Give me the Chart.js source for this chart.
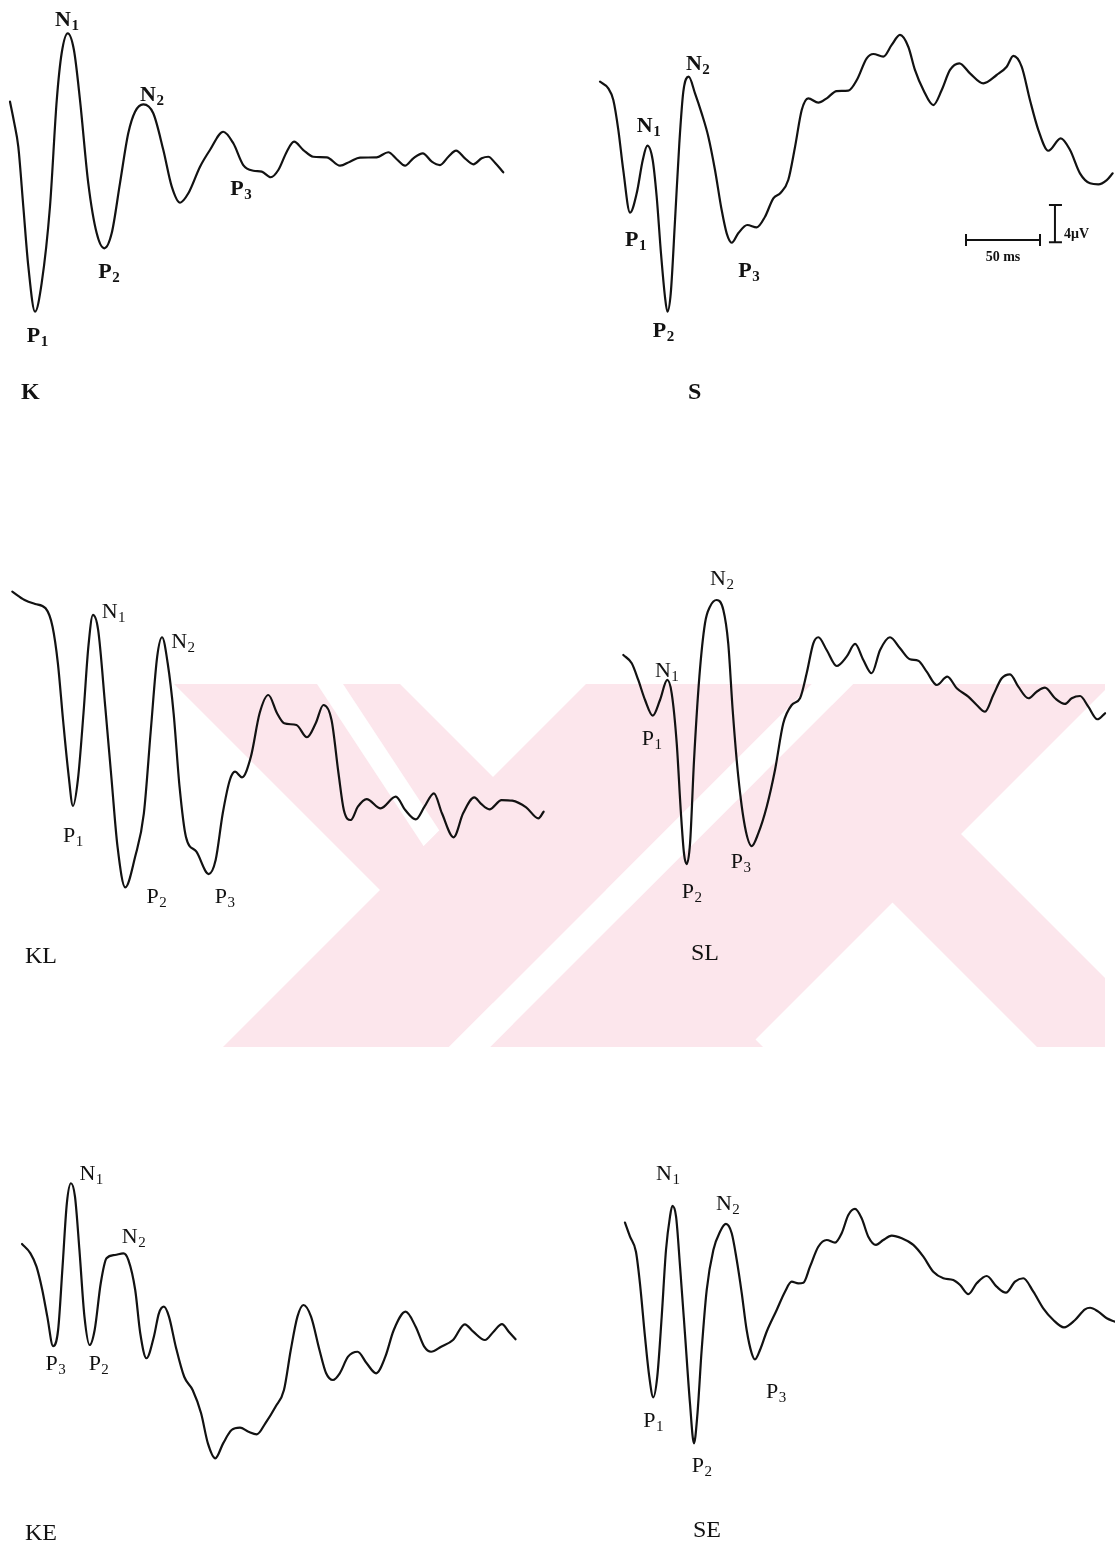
<!DOCTYPE html>
<html>
<head>
<meta charset="utf-8">
<title>Evoked potentials</title>
<script src="https://cdn.jsdelivr.net/npm/chart.js@4.4.1/dist/chart.umd.min.js"></script>
<style>
  html, body { margin: 0; padding: 0; background: #ffffff; }
  #wrap { position: relative; width: 1115px; height: 1551px; }
  canvas { display: block; }
</style>
</head>
<body>
<div id="wrap"><canvas id="ep" width="1115" height="1551"></canvas></div>
<script>
// ---- recordings: latency (ms) and amplitude (µV, relative to each trace's own reference) ----
const kTime = [0,2.7,5.6,9.0,12.4,16.9,21.4,27.0,31.6,34.9,39.0,43.2,47.3,52.9,58.6,63.7,68.7,74.3,79.9,84.5,90.1,96.8,103.6,109.3,114.9,120.5,128.4,135.1,144.1,150.9,157.6,164.4,170.1,176.2,181.3,187.0,191.9,198.2,204.9,214.0,223.0,229.7,236.5,247.8,255.6,261.3,266.9,272.5,278.9,285.0,290.5,296.2,301.4,307.4,313.1,318.7,323.2,327.7,333.3];
const kAmp  = [6.25,4.11,1.43,-5.01,-11.44,-16.26,-13.19,-5.01,6.43,11.44,13.58,11.79,6.43,-2.50,-7.86,-9.47,-7.86,-2.50,2.86,5.18,5.97,5.01,1.07,-2.86,-4.58,-3.57,-0.72,1.07,3.03,1.79,-0.54,-1.15,-1.25,-1.85,-1.07,0.89,1.96,1.07,0.35,0.29,-0.61,-0.18,0.25,0.29,0.83,0.08,-0.61,0.18,0.72,-0.18,-0.54,0.35,1.00,0.18,-0.46,0.18,0.35,-0.29,-1.32];

const sTime = [0,5.6,9.0,12.4,15.7,20.3,24.8,28.9,32.0,35.6,38.3,41.2,43.9,45.5,47.8,50.7,53.6,56.3,59.9,64.2,68.7,73.2,77.7,82.2,85.6,89.0,93.4,99.5,105.9,111.5,117.1,122.1,127.2,131.8,136.3,140.7,147.5,153.2,159.9,167.8,173.5,180.2,184.7,191.4,197.1,202.7,208.3,212.8,218.5,225.2,230.9,236.5,242.8,250.0,259.0,268.0,274.8,279.3,284.9,290.5,296.2,302.9,311.3,317.6,324.3,331.1,336.7,342.4,346.4];
const sAmp  = [7.32,6.61,5.36,2.14,-2.14,-6.72,-4.64,-1.07,0.46,-1.07,-5.01,-11.07,-15.73,-17.33,-15.36,-7.50,0.72,6.25,7.86,6.08,3.93,1.43,-2.14,-6.43,-8.93,-9.94,-8.93,-8.04,-8.29,-7.15,-5.18,-4.58,-3.22,0.35,4.29,5.54,5.07,5.54,6.32,6.36,7.50,9.83,10.29,10.00,11.26,12.33,11.07,8.58,6.43,4.82,6.43,8.58,9.29,8.22,7.15,8.04,8.93,10.08,8.93,5.36,2.14,-0.08,1.25,0,-2.50,-3.57,-3.68,-3.22,-2.50];

const klTime = [0,8.3,15.4,22.5,27.2,30.8,34.3,37.9,41.0,44.3,48.1,51.4,54.5,58.0,62.8,67.1,71.1,76.3,83.0,88.9,93.6,97.9,101.2,105.0,109.0,113.0,117.3,124.4,132.7,137.4,142.2,147.0,150.5,155.2,161.2,167.1,173.0,178.9,183.7,192.0,199.1,205.0,210.2,215.7,220.4,224.0,228.7,233.5,239.4,248.9,259.1,265.5,272.6,278.5,284.9,290.3,298.2,304.6,312.2,316.4,322.4,330.6,337.8,347.2,355.5,359.0];
const klAmp  = [13.75,12.86,12.44,11.97,10.00,6.08,0,-5.71,-9.22,-6.43,0.72,7.86,11.26,9.65,1.43,-6.43,-13.58,-17.93,-14.65,-10.00,-1.07,6.79,8.87,6.08,0.72,-7.15,-12.51,-14.12,-16.51,-15.01,-10.00,-6.43,-5.54,-6.14,-3.93,0.72,2.68,0.72,-0.35,-0.54,-1.85,-0.35,1.61,0,-5.71,-9.65,-10.72,-9.29,-8.47,-9.47,-8.22,-9.65,-10.65,-9.29,-7.86,-10.00,-12.57,-10.00,-8.29,-8.93,-9.57,-8.58,-8.65,-9.36,-10.54,-9.83];

const slTime = [0,5.7,10.1,14.7,19.9,24.8,29.7,32.7,36.1,38.8,41.0,42.8,45.1,47.8,51.4,55.2,58.6,63.1,67.6,70.9,73.9,77.7,82.2,86.8,91.2,96.9,102.5,108.1,113.8,119.4,123.9,128.4,131.8,137.4,144.2,150.9,156.6,162.2,167.8,173.5,180.2,187.0,193.7,199.3,205.0,211.8,218.9,225.3,233.1,238.8,244.4,250.0,255.7,261.3,266.9,273.7,279.3,284.9,291.7,298.4,303.0,308.6,314.2,320.3,325.5];
const slAmp  = [6.97,6.08,4.29,2.14,0.46,2.14,4.29,2.86,-2.50,-9.65,-14.29,-15.44,-13.22,-4.29,4.64,10.37,12.15,12.86,11.79,8.22,1.07,-6.08,-11.44,-13.51,-12.15,-9.29,-5.36,-0.35,1.61,2.33,5.01,8.22,8.87,7.50,5.79,6.79,8.15,6.43,5.01,7.50,8.87,7.69,6.51,6.36,5.18,3.75,4.64,3.40,2.50,1.61,0.89,2.68,4.47,4.90,3.57,2.33,3.03,3.46,2.33,1.72,2.33,2.57,1.43,0.08,0.72];

const keTime = [0,5.7,9.8,13.7,17.1,21.0,24.4,27.4,30.3,33.1,35.8,38.8,42.2,45.7,49.1,53.2,57.1,62.8,68.5,71.9,76.5,79.9,84.1,89.1,92.5,95.9,99.3,103.9,109.6,115.3,121.0,125.6,130.6,135.9,141.6,147.3,153.0,158.7,164.4,171.3,177.0,181.6,186.1,190.2,195.3,201.0,205.5,210.1,214.7,220.3,226.8,232.9,239.3,245.5,251.2,259.2,266.0,271.8,276.4,283.2,291.2,299.2,304.9,312.8,318.6,324.3,328.9,333.5];
const keAmp  = [9.22,8.22,6.79,4.29,1.43,-1.72,0,6.79,13.58,15.73,14.29,8.58,1.43,-1.61,0,5.01,7.69,8.04,8.22,7.50,4.29,-0.35,-3.03,-0.72,1.79,2.50,1.43,-1.79,-5.01,-6.43,-8.93,-12.15,-13.75,-12.15,-10.72,-10.47,-10.90,-11.18,-10.00,-8.22,-6.43,-2.14,1.43,2.68,1.43,-2.14,-4.64,-5.36,-4.64,-2.86,-2.33,-3.57,-4.64,-2.86,0,1.96,0.35,-1.79,-2.33,-1.79,-1.07,0.61,-0.18,-1.07,-0.18,0.64,-0.18,-1.00];

const seTime = [0,3.4,7.4,10.1,13.5,16.4,19.1,21.8,24.8,27.7,30.4,32.0,34.5,37.2,40.5,43.9,46.6,48.8,51.8,55.2,59.7,64.2,68.2,72.1,75.5,78.9,82.2,85.6,87.8,91.2,95.7,102.5,108.1,112.6,117.1,120.5,125.0,130.6,136.3,141.9,146.4,150.9,155.4,159.9,164.4,169.6,174.5,180.2,187.0,194.8,201.6,208.3,215.1,221.8,226.4,232.0,237.6,244.4,251.1,257.4,263.5,269.1,275.9,282.6,289.4,296.6,304.1,310.8,314.2,319.8,325.5,331.1];
const seAmp  = [8.29,6.79,5.18,1.79,-3.93,-8.22,-10.43,-8.22,-1.79,5.36,8.93,10.08,8.93,3.57,-3.57,-11.07,-15.36,-12.51,-5.36,1.07,5.36,7.32,8.15,7.15,4.29,0.72,-3.22,-5.71,-6.36,-5.36,-3.40,-1.07,0.89,1.96,1.79,1.85,3.57,5.71,6.43,6.14,7.15,9.11,9.76,8.76,6.79,5.90,6.43,6.89,6.61,5.90,4.64,3.03,2.33,2.14,1.61,0.64,1.79,2.57,1.43,0.78,1.96,2.33,0.89,-0.89,-2.14,-2.93,-2.14,-1.00,-0.83,-1.25,-1.96,-2.33];

// calibration shown with the S recording
const scaleBarMs = 50;
const scaleBarUv = 4;

// ---- page layout ----
const W = 1115, H = 1551;
const PX_PER_MS = 1.48;   // horizontal gain
const PX_PER_UV = 9.33;   // vertical gain
const INK = '#121212';
const SERIF = '"Liberation Serif", "DejaVu Serif", serif';

// where each trace's zero latency / zero amplitude sits on the page
const panels = [
  { id: 'K',  time: kTime,  amp: kAmp,  ox: 10,    oy: 160,  title: 'K',  tx: 21,  ty: 399,  bold: true  },
  { id: 'S',  time: sTime,  amp: sAmp,  ox: 600,   oy: 150,  title: 'S',  tx: 688, ty: 399,  bold: true  },
  { id: 'KL', time: klTime, amp: klAmp, ox: 12.3,  oy: 720,  title: 'KL', tx: 25,  ty: 963,  bold: false },
  { id: 'SL', time: slTime, amp: slAmp, ox: 623.3, oy: 720,  title: 'SL', tx: 691, ty: 960,  bold: false },
  { id: 'KE', time: keTime, amp: keAmp, ox: 22,    oy: 1330, title: 'KE', tx: 25,  ty: 1540, bold: false },
  { id: 'SE', time: seTime, amp: seAmp, ox: 625,   oy: 1300, title: 'SE', tx: 693, ty: 1537, bold: false }
];

// component names, attached to a sample of the trace, with a pixel offset for the text
const peakLabels = [
  { p: 'K',  at: 10, n: 'N', s: '1', dx: -12.7, dy: -7.3 },
  { p: 'K',  at: 20, n: 'N', s: '2', dx: -3.3,  dy: -3   },
  { p: 'K',  at: 5,  n: 'P', s: '1', dx: -8.3,  dy: 30   },
  { p: 'K',  at: 15, n: 'P', s: '2', dx: -6,    dy: 30   },
  { p: 'K',  at: 31, n: 'P', s: '3', dx: -23,   dy: 24   },

  { p: 'S',  at: 8,  n: 'N', s: '1', dx: -10.6, dy: -14  },
  { p: 'S',  at: 18, n: 'N', s: '2', dx: -2.7,  dy: -6.7 },
  { p: 'S',  at: 5,  n: 'P', s: '1', dx: -5,    dy: 33.3 },
  { p: 'S',  at: 13, n: 'P', s: '2', dx: -14.6, dy: 25   },
  { p: 'S',  at: 25, n: 'P', s: '3', dx: 6.6,   dy: 34.6 },

  { p: 'KL', at: 12, n: 'N', s: '1', dx: 8.7,   dy: 3.3  },
  { p: 'KL', at: 22, n: 'N', s: '2', dx: 9.1,   dy: 11   },
  { p: 'KL', at: 8,  n: 'P', s: '1', dx: -9.9,  dy: 35.7 },
  { p: 'KL', at: 17, n: 'P', s: '2', dx: 21.4,  dy: 16   },
  { p: 'KL', at: 28, n: 'P', s: '3', dx: 6,     dy: 29.3 },

  { p: 'SL', at: 6,  n: 'N', s: '1', dx: -12.3, dy: -3.3 },
  { p: 'SL', at: 17, n: 'N', s: '2', dx: -6.7,  dy: -15  },
  { p: 'SL', at: 4,  n: 'P', s: '1', dx: -11,   dy: 29.3 },
  { p: 'SL', at: 11, n: 'P', s: '2', dx: -5,    dy: 34   },
  { p: 'SL', at: 23, n: 'P', s: '3', dx: -21,   dy: 22.3 },

  { p: 'KE', at: 9,  n: 'N', s: '1', dx: 8.4,   dy: -3.3 },
  { p: 'KE', at: 17, n: 'N', s: '2', dx: 6.8,   dy: -11.7 },
  { p: 'KE', at: 5,  n: 'P', s: '3', dx: -7.5,  dy: 24   },
  { p: 'KE', at: 13, n: 'P', s: '2', dx: -1,    dy: 25   },

  { p: 'SE', at: 11, n: 'N', s: '1', dx: -16.3, dy: -26  },
  { p: 'SE', at: 22, n: 'N', s: '2', dx: -10,   dy: -14  },
  { p: 'SE', at: 6,  n: 'P', s: '1', dx: -10,   dy: 29.4 },
  { p: 'SE', at: 16, n: 'P', s: '2', dx: -2.3,  dy: 28.4 },
  { p: 'SE', at: 28, n: 'P', s: '3', dx: 11,    dy: 39   }
];

// calibration bars, placed in the S recording's own units
const calib = { p: 'S', hT: 247.3, hV: -9.65, vT: 307.4, vV: -9.9 };

// pale background emblem (page pixels): diagonal strips clipped to a band,
// painted in order; white entries are the gaps between strips
const emblemColor = '#fce6ec';
const emblemClip = { x0: 0, y0: 684, x1: 1105, y1: 1047 };
const emblem = [
  { fill: emblemColor, pts: [[174,684],[400,684],[763,1047],[537,1047]] },
  { fill: '#ffffff',   pts: [[317,684],[343,684],[439.4,830.6],[423.7,846.3]] },
  { fill: emblemColor, pts: [[586,684],[812,684],[449,1047],[223,1047]] },
  { fill: emblemColor, pts: [[853,684],[1111,684],[748,1047],[490,1047]] },
  { fill: emblemColor, pts: [[763.5,773.5],[832,705],[1174,1047],[1037,1047]] },
  { fill: '#ffffff',   pts: [[812,684],[853,684],[490,1047],[449,1047]] }
];

// ---- scales: one hidden x/y pair per recording, gains shared ----
const scales = {
  x: { type: 'linear', display: false, min: 0, max: 1 },
  y: { type: 'linear', display: false, min: 0, max: 1 }
};
panels.forEach(p => {
  scales['x' + p.id] = { type: 'linear', display: false, bounds: 'data',
    min: -p.ox / PX_PER_MS, max: (W - p.ox) / PX_PER_MS };
  scales['y' + p.id] = { type: 'linear', display: false, bounds: 'data',
    min: (p.oy - H) / PX_PER_UV, max: p.oy / PX_PER_UV };
});

const datasets = panels.map(p => ({
  label: p.title,
  data: p.time.map((t, i) => ({ x: t, y: p.amp[i] })),
  xAxisID: 'x' + p.id,
  yAxisID: 'y' + p.id,
  borderColor: INK,
  borderWidth: 2.2,
  pointRadius: 0,
  fill: false,
  cubicInterpolationMode: 'monotone',
  borderJoinStyle: 'round',
  borderCapStyle: 'round'
}));

const byId = {};
panels.forEach(p => { byId[p.id] = p; });

const emblemPlugin = {
  id: 'emblem',
  beforeDatasetsDraw(chart) {
    const ctx = chart.ctx;
    ctx.save();
    ctx.beginPath();
    ctx.rect(emblemClip.x0, emblemClip.y0, emblemClip.x1 - emblemClip.x0, emblemClip.y1 - emblemClip.y0);
    ctx.clip();
    emblem.forEach(shape => {
      ctx.fillStyle = shape.fill;
      ctx.beginPath();
      shape.pts.forEach((pt, i) => i ? ctx.lineTo(pt[0], pt[1]) : ctx.moveTo(pt[0], pt[1]));
      ctx.closePath();
      ctx.fill();
    });
    ctx.restore();
  }
};

const textPlugin = {
  id: 'annotations',
  afterDatasetsDraw(chart) {
    const ctx = chart.ctx;
    ctx.save();
    ctx.fillStyle = INK;
    ctx.strokeStyle = INK;
    ctx.textAlign = 'left';
    ctx.textBaseline = 'alphabetic';

    // component labels with subscripts
    peakLabels.forEach(l => {
      const p = byId[l.p];
      const w8 = p.bold ? 'bold ' : '';
      const x = chart.scales['x' + l.p].getPixelForValue(p.time[l.at]) + l.dx;
      const y = chart.scales['y' + l.p].getPixelForValue(p.amp[l.at]) + l.dy;
      ctx.font = w8 + '22px ' + SERIF;
      ctx.fillText(l.n, x, y);
      const w = ctx.measureText(l.n).width;
      ctx.font = w8 + '15px ' + SERIF;
      ctx.fillText(l.s, x + w + 0.5, y + 4);
    });

    // recording names
    panels.forEach(p => {
      ctx.font = (p.bold ? 'bold ' : '') + '24px ' + SERIF;
      ctx.fillText(p.title, p.tx, p.ty);
    });

    // calibration: 50 ms horizontal, 4 µV vertical
    const xs = chart.scales['x' + calib.p], ys = chart.scales['y' + calib.p];
    const hx0 = xs.getPixelForValue(calib.hT), hx1 = xs.getPixelForValue(calib.hT + scaleBarMs);
    const hy = ys.getPixelForValue(calib.hV);
    const vx = xs.getPixelForValue(calib.vT);
    const vy0 = ys.getPixelForValue(calib.vV), vy1 = ys.getPixelForValue(calib.vV + scaleBarUv);
    ctx.lineWidth = 2;
    ctx.lineCap = 'butt';
    ctx.beginPath();
    ctx.moveTo(hx0, hy); ctx.lineTo(hx1, hy);
    ctx.moveTo(hx0, hy - 6); ctx.lineTo(hx0, hy + 6);
    ctx.moveTo(hx1, hy - 6); ctx.lineTo(hx1, hy + 6);
    ctx.moveTo(vx, vy0); ctx.lineTo(vx, vy1);
    ctx.moveTo(vx - 6, vy0); ctx.lineTo(vx + 7, vy0);
    ctx.moveTo(vx - 6, vy1); ctx.lineTo(vx + 7, vy1);
    ctx.stroke();
    ctx.font = 'bold 14px ' + SERIF;
    ctx.textAlign = 'center';
    ctx.fillText(scaleBarMs + ' ms', (hx0 + hx1) / 2, hy + 21);
    ctx.textAlign = 'left';
    ctx.fillText(scaleBarUv + '\u03BCV', vx + 9, vy0 - 4);
    ctx.restore();
  }
};

new Chart(document.getElementById('ep'), {
  type: 'line',
  data: { datasets },
  options: {
    responsive: false,
    animation: false,
    devicePixelRatio: 1,
    parsing: true,
    layout: { padding: 0 },
    scales,
    plugins: { legend: { display: false }, tooltip: { enabled: false }, title: { display: false } },
    events: []
  },
  plugins: [emblemPlugin, textPlugin]
});
</script>
</body>
</html>
